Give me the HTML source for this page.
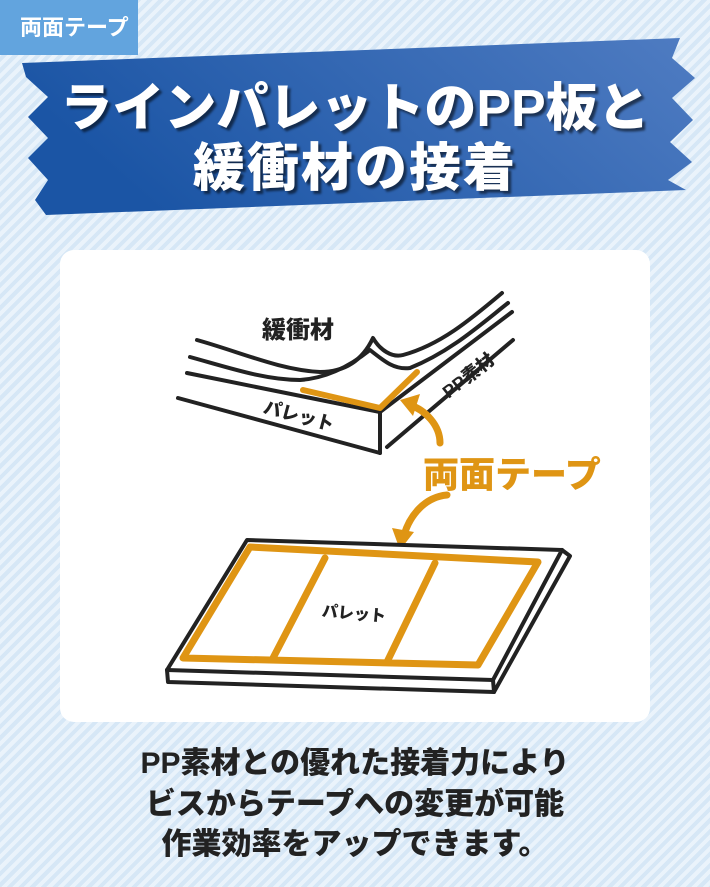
<!DOCTYPE html>
<html><head><meta charset="utf-8"><style>
html,body{margin:0;padding:0}
body{width:710px;height:887px;overflow:hidden;position:relative;font-family:"Liberation Sans","Noto Sans CJK JP",sans-serif;
background:repeating-linear-gradient(135deg,#d6e7f6 0 4px,#eaf3fb 4px 8px);}
.tag{position:absolute;left:0;top:0;width:138px;height:55px;background:#62a4de;color:#fff;font-weight:bold;font-size:22px;line-height:55px;text-indent:20px;white-space:nowrap}
.card{position:absolute;left:60px;top:250px;width:590px;height:472px;background:#fff;border-radius:14px}
.title{position:absolute;left:0;width:710px;text-align:center;color:#fff;font-weight:900;font-size:52px;text-shadow:3px 3px 2px rgba(0,0,0,.55);white-space:nowrap}
.bt{position:absolute;left:0;width:710px;text-align:center;color:#222;font-weight:900;font-size:30px;white-space:nowrap}
</style></head><body>
<div class="tag">両面テープ</div>
<svg style="position:absolute;left:0;top:0" width="710" height="240">
<defs><linearGradient id="g" x1="0" x2="1" y1="0.3" y2="0"><stop offset="0" stop-color="#1b55a5"/><stop offset="1" stop-color="#4f7cc2"/></linearGradient></defs>
<polygon points="22,63 680,38 672,58 695,78 672,98 693,120 670,142 692,162 668,180 686,190 46,215 35,200 48,180 28,158 48,138 28,117 48,97 26,77" fill="url(#g)"/>
</svg>
<div class="title" style="top:66px;letter-spacing:0px">ラインパレットのPP板と</div>
<div class="title" style="top:126px;letter-spacing:2px">緩衝材の接着</div>
<div class="card"></div>
<svg style="position:absolute;left:0;top:0" width="710" height="887" fill="none" stroke="#222" stroke-width="4" stroke-linecap="round" stroke-linejoin="round">
<path d="M197,340 C240,352 280,370 320,372 C350,372 365,355 373,338 C380,350 392,358 403,355 C440,345 470,320 502,293"/>
<path d="M190,357 C230,368 265,380 300,380 C330,378 355,362 370,350 C385,362 395,370 410,368 C450,352 480,325 508,303"/>
<path d="M187,373 L380,412 L512,312"/>
<path d="M178,398 L380,453"/>
<path d="M380,412 L380,453"/>
<path d="M387,447 L513,340"/>
<path d="M303,390 L380,408 L417,372" stroke="#df9514" stroke-width="6"/>
<path d="M440,443 C440,425 425,410 410,405" stroke="#df9514" stroke-width="7"/>
<polygon points="400,400 420,394 413,416" fill="#df9514" stroke="none"/>
<path d="M447,495 C425,497 410,515 404,535" stroke="#df9514" stroke-width="7"/>
<polygon points="400,550 392,528 414,532" fill="#df9514" stroke="none"/>
<path d="M247,540 L562,550 L493,680 L167,670 Z" fill="#fff"/>
<path d="M167,670 L168,682 L494,692 L570,556 L562,550"/>
<path d="M493,680 L494,692"/>
<path d="M250,547 L538,562 L478,665 L183,658 Z M325,558 L272,660 M435,563 L387,662" stroke="#df9514" stroke-width="7"/>
</svg>
<div style="position:absolute;left:262px;top:310px;font-weight:900;font-size:24px;color:#222">緩衝材</div>
<div style="position:absolute;left:263px;top:402px;font-weight:900;font-size:18px;color:#222;transform:rotate(15deg)">パレット</div>
<div style="position:absolute;left:438px;top:362px;font-weight:900;font-size:18px;color:#222;transform:rotate(-38deg)">PP素材</div>
<div style="position:absolute;left:423px;top:446px;font-weight:900;font-size:36px;color:#df9514">両面テープ</div>
<div style="position:absolute;left:322px;top:600px;font-weight:900;font-size:16px;color:#222;transform:rotate(5deg)">パレット</div>
<div class="bt" style="top:738px">PP素材との優れた接着力により</div>
<div class="bt" style="top:779px">ビスからテープへの変更が可能</div>
<div class="bt" style="top:819px">作業効率をアップできます。</div>
</body></html>
